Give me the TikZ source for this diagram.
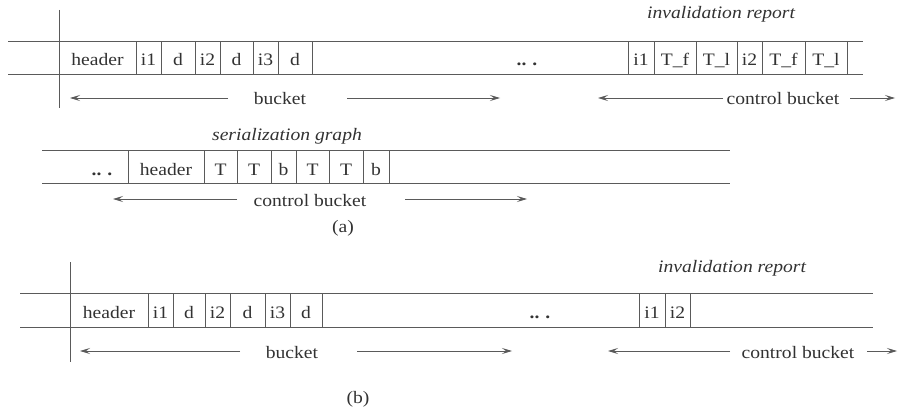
\documentclass[tikz,border=0pt]{standalone}
\usepackage{fontspec}
\setmainfont{Liberation Serif}[FakeStretch=1.12]
\usetikzlibrary{arrows.meta}
\definecolor{linec}{RGB}{90,90,90}
\definecolor{textc}{RGB}{50,50,50}
\tikzset{
  txt/.style={font=\fontsize{17.5}{20}\selectfont, text=textc},
  band/.style={draw=linec, line width=0.85pt},
  cell/.style={txt, draw=linec, line width=0.85pt, inner sep=0pt,
               text height=18pt, text depth=1pt, anchor=center},
  gap/.style={txt, inner sep=0pt, text height=18pt, text depth=1pt, anchor=center},
  lbl/.style={txt, inner sep=0pt, anchor=base},
  ital/.style={txt, font=\fontsize{17.5}{20}\selectfont\itshape, inner sep=0pt, anchor=base},
  arr/.style={draw=linec, line width=0.85pt, -{Stealth[length=10pt,width=6pt,inset=4pt]}},
}
\begin{document}
\begin{tikzpicture}[x=1pt, y=-1pt]
\useasboundingbox (0,0) rectangle (899,409);

% ---------- (a) broadcast channel: data bucket and invalidation report ----------
\coordinate (a1tl) at (8,41);   \coordinate (a1tr) at (863,41);
\coordinate (a1bl) at (8,74);   \coordinate (a1br) at (863,74);
\coordinate (a1vt) at (59,10);  \coordinate (a1vb) at (59,108);
\draw[band] (a1tl) -- (a1tr);
\draw[band] (a1bl) -- (a1br);
\draw[band] (a1vt) -- (a1vb);

\begin{scope}[every node/.append style={minimum height=33pt}]
\node[cell, minimum width=77pt] (a1h)  at (97.5,57.5) {header};
\node[cell, minimum width=25pt] (a1i1) at (148.5,57.5) {i1};
\node[cell, minimum width=34pt] (a1d1) at (178,57.5) {d};
\node[cell, minimum width=25pt] (a1i2) at (207.5,57.5) {i2};
\node[cell, minimum width=33pt] (a1d2) at (236.5,57.5) {d};
\node[cell, minimum width=25pt] (a1i3) at (265.5,57.5) {i3};
\node[cell, minimum width=34pt] (a1d3) at (295,57.5) {d};
\node[gap] (a1dots) at (527,57.5) {\textbf{..\,\,.}};
\node[cell, minimum width=26pt] (a1r1) at (641,57.5) {i1};
\node[cell, minimum width=42pt] (a1r2) at (675,57.5) {T\_f};
\node[cell, minimum width=41pt] (a1r3) at (716.5,57.5) {T\_l};
\node[cell, minimum width=25pt] (a1r4) at (749.5,57.5) {i2};
\node[cell, minimum width=43pt] (a1r5) at (783.5,57.5) {T\_f};
\node[cell, minimum width=42pt] (a1r6) at (826,57.5) {T\_l};
\end{scope}
\node[ital] (a1ir) at (721,19) {invalidation report};

% bucket extent
\node[lbl] (a1bk) at (280,105) {bucket};
\coordinate (a1bkL1) at (228,98); \coordinate (a1bkL2) at (70,98);
\coordinate (a1bkR1) at (347,98); \coordinate (a1bkR2) at (500,98);
\draw[arr] (a1bkL1) -- (a1bkL2);
\draw[arr] (a1bkR1) -- (a1bkR2);
% control bucket extent
\node[lbl] (a1cb) at (783,105) {control bucket};
\coordinate (a1cbL1) at (723,98); \coordinate (a1cbL2) at (598,98);
\coordinate (a1cbR1) at (850,98); \coordinate (a1cbR2) at (895,98);
\draw[arr] (a1cbL1) -- (a1cbL2);
\draw[arr] (a1cbR1) -- (a1cbR2);

% ---------- (a) control bucket carrying the serialization graph ----------
\coordinate (a2tl) at (42,150);  \coordinate (a2tr) at (730,150);
\coordinate (a2bl) at (42,183);  \coordinate (a2br) at (730,183);
\draw[band] (a2tl) -- (a2tr);
\draw[band] (a2bl) -- (a2br);

\begin{scope}[every node/.append style={minimum height=33pt}]
\node[gap] (a2dots) at (102,166.5) {\textbf{..\,\,.}};
\node[cell, minimum width=76pt] (a2h)  at (166,166.5) {header};
\node[cell, minimum width=33pt] (a2t1) at (220.5,166.5) {T};
\node[cell, minimum width=34pt] (a2t2) at (254,166.5) {T};
\node[cell, minimum width=25pt] (a2b1) at (283.5,166.5) {b};
\node[cell, minimum width=33pt] (a2t3) at (312.5,166.5) {T};
\node[cell, minimum width=34pt] (a2t4) at (346,166.5) {T};
\node[cell, minimum width=26pt] (a2b2) at (376,166.5) {b};
\end{scope}
\node[ital] (a2sg) at (287,140) {serialization graph};

\node[lbl] (a2cb) at (310,206) {control bucket};
\coordinate (a2cbL1) at (237,199); \coordinate (a2cbL2) at (113,199);
\coordinate (a2cbR1) at (405,199); \coordinate (a2cbR2) at (527,199);
\draw[arr] (a2cbL1) -- (a2cbL2);
\draw[arr] (a2cbR1) -- (a2cbR2);

\node[lbl] (capa) at (343,232) {(a)};

% ---------- (b) broadcast channel with a short invalidation report ----------
\coordinate (b1tl) at (20,293);  \coordinate (b1tr) at (873,293);
\coordinate (b1bl) at (20,327);  \coordinate (b1br) at (873,327);
\coordinate (b1vt) at (70,262);  \coordinate (b1vb) at (70,362);
\draw[band] (b1tl) -- (b1tr);
\draw[band] (b1bl) -- (b1br);
\draw[band] (b1vt) -- (b1vb);

\begin{scope}[every node/.append style={minimum height=34pt}]
\node[cell, minimum width=78pt] (b1h)  at (109,310) {header};
\node[cell, minimum width=25pt] (b1i1) at (160.5,310) {i1};
\node[cell, minimum width=32pt] (b1d1) at (189,310) {d};
\node[cell, minimum width=25pt] (b1i2) at (217.5,310) {i2};
\node[cell, minimum width=35pt] (b1d2) at (247.5,310) {d};
\node[cell, minimum width=25pt] (b1i3) at (277.5,310) {i3};
\node[cell, minimum width=32pt] (b1d3) at (306,310) {d};
\node[gap] (b1dots) at (540,310) {\textbf{..\,\,.}};
\node[cell, minimum width=26pt] (b1r1) at (652,310) {i1};
\node[cell, minimum width=25pt] (b1r2) at (677.5,310) {i2};
\end{scope}
\node[ital] (b1ir) at (732,272) {invalidation report};

\node[lbl] (b1bk) at (292,358) {bucket};
\coordinate (b1bkL1) at (240,351); \coordinate (b1bkL2) at (80,351);
\coordinate (b1bkR1) at (357,351); \coordinate (b1bkR2) at (512,351);
\draw[arr] (b1bkL1) -- (b1bkL2);
\draw[arr] (b1bkR1) -- (b1bkR2);
\node[lbl] (b1cb) at (798,358) {control bucket};
\coordinate (b1cbL1) at (730,351); \coordinate (b1cbL2) at (608,351);
\coordinate (b1cbR1) at (867,351); \coordinate (b1cbR2) at (897,351);
\draw[arr] (b1cbL1) -- (b1cbL2);
\draw[arr] (b1cbR1) -- (b1cbR2);

\node[lbl] (capb) at (358,403) {(b)};
\end{tikzpicture}
\end{document}
